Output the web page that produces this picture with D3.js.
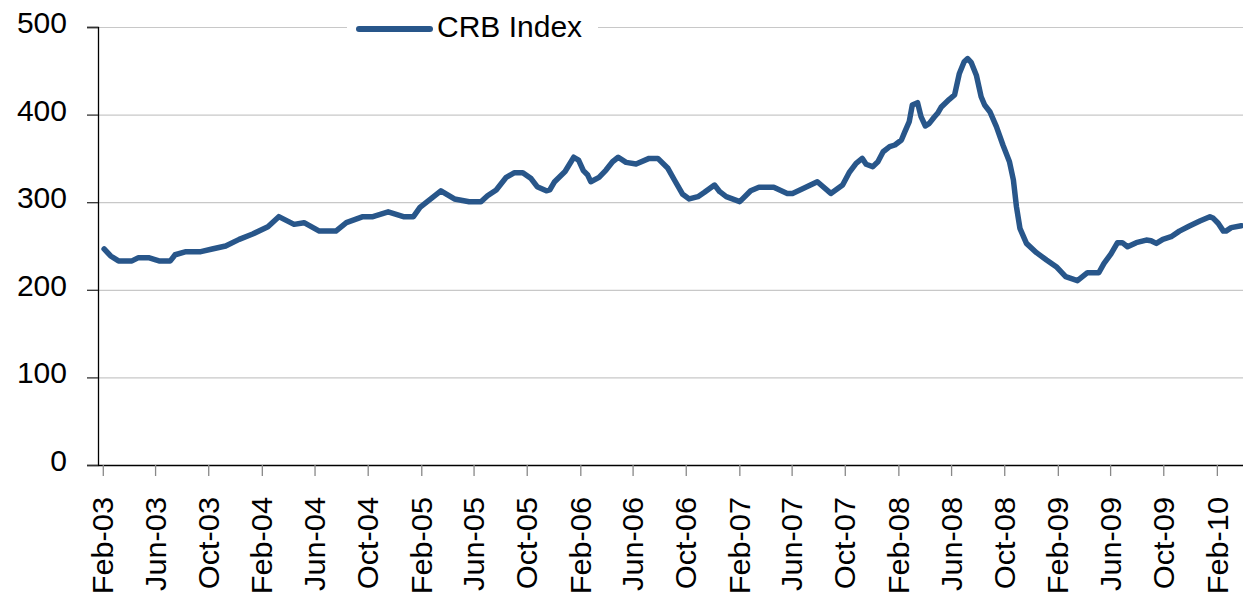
<!DOCTYPE html>
<html>
<head>
<meta charset="utf-8">
<script src="https://cdn.jsdelivr.net/npm/d3@7"></script>
<style>
    body { margin: 0; background: #fff; }
    text { font-family: "Liberation Sans", Arial, sans-serif; fill: #000; }
</style>
</head>
<body>
<div id="chart"></div>
<script>
// Weekly-ish readings of the CRB Index
const obsDates = [
    '2003-02-04', '2003-02-19', '2003-03-09', '2003-04-09', '2003-04-24', '2003-05-17', '2003-06-10', '2003-07-06',
    '2003-07-17', '2003-08-11', '2003-09-14', '2003-10-10', '2003-11-10', '2003-12-11', '2004-01-11', '2004-02-15',
    '2004-03-11', '2004-04-15', '2004-05-08', '2004-06-12', '2004-07-20', '2004-08-13', '2004-09-20', '2004-10-13',
    '2004-11-17', '2004-12-22', '2005-01-14', '2005-01-29', '2005-03-18', '2005-04-18', '2005-05-22', '2005-06-18',
    '2005-07-03', '2005-07-23', '2005-08-15', '2005-09-03', '2005-09-22', '2005-10-11', '2005-10-25', '2005-11-15',
    '2005-11-23', '2005-12-04', '2005-12-28', '2006-01-17', '2006-01-28', '2006-02-08', '2006-02-18', '2006-02-25',
    '2006-03-16', '2006-04-01', '2006-04-16', '2006-04-29', '2006-05-17', '2006-06-09', '2006-07-09', '2006-07-29',
    '2006-08-21', '2006-09-05', '2006-09-24', '2006-10-09', '2006-10-29', '2006-11-13', '2006-12-06', '2006-12-18',
    '2007-01-02', '2007-02-02', '2007-02-27', '2007-03-18', '2007-04-21', '2007-05-22', '2007-06-03', '2007-06-25',
    '2007-07-30', '2007-08-30', '2007-09-26', '2007-10-11', '2007-10-27', '2007-11-10', '2007-11-19', '2007-12-04',
    '2007-12-16', '2007-12-28', '2008-01-12', '2008-01-24', '2008-02-08', '2008-02-16', '2008-02-26', '2008-03-04',
    '2008-03-16', '2008-03-24', '2008-04-03', '2008-04-12', '2008-04-23', '2008-05-01', '2008-05-09', '2008-05-28',
    '2008-06-09', '2008-06-20', '2008-07-01', '2008-07-09', '2008-07-17', '2008-07-29', '2008-08-09', '2008-08-17',
    '2008-08-29', '2008-09-13', '2008-09-28', '2008-10-13', '2008-10-22', '2008-10-29', '2008-11-06', '2008-11-21',
    '2008-12-14', '2009-01-06', '2009-01-30', '2009-02-19', '2009-03-18', '2009-04-10', '2009-05-06', '2009-05-18',
    '2009-06-03', '2009-06-18', '2009-06-29', '2009-07-11', '2009-07-31', '2009-08-23', '2009-09-03', '2009-09-15',
    '2009-09-30', '2009-10-19', '2009-11-07', '2009-11-30', '2009-12-24', '2010-01-16', '2010-01-24', '2010-02-04',
    '2010-02-16', '2010-02-22', '2010-03-06', '2010-03-29'
];
const crbIndex = [
    246.6, 238.6, 233, 233, 236.7, 236.7, 233, 233,
    240, 243.5, 243.5, 246.6, 250, 257.6, 263.7, 272,
    283.5, 274.7, 276.6, 267, 267, 276.6, 283.5, 283.5,
    289, 283.5, 283.5, 294, 313, 303.7, 300.6, 300.6,
    307.4, 314, 328.4, 333.7, 333.7, 327, 317.7, 313,
    314, 323.4, 335, 351.3, 348, 336, 331, 323.4,
    328.4, 336.7, 346.2, 351.3, 345.5, 343.6, 350, 350,
    338.7, 325.3, 309, 303.7, 306.3, 311.3, 319.6, 312,
    306.3, 300.6, 313, 317, 317, 310, 310, 315,
    323.4, 310, 319.6, 333.7, 344.4, 350, 343.3, 340.6,
    346.2, 357.6, 363.4, 365.3, 371, 380.5, 392, 411,
    413.6, 397.6, 387, 390, 396.9, 401.5, 408.3, 417.5,
    422.4, 447, 460.4, 464, 459.7, 445, 420.4, 411,
    403.3, 386.2, 365.3, 346.2, 325.3, 294.9, 270.2, 253,
    242.4, 234, 225.7, 215, 210.4, 219.5, 219.5, 230.2,
    241, 253.8, 253.8, 249.2, 253.8, 256.8, 256, 253,
    257.6, 260.6, 267, 272.8, 278.5, 283.5, 281.6, 276,
    267, 267, 271, 273.2
];
const xTickDates = [
    '2003-02-01', '2003-06-01', '2003-10-01', '2004-02-01', '2004-06-01', '2004-10-01',
    '2005-02-01', '2005-06-01', '2005-10-01', '2006-02-01', '2006-06-01', '2006-10-01',
    '2007-02-01', '2007-06-01', '2007-10-01', '2008-02-01', '2008-06-01', '2008-10-01',
    '2009-02-01', '2009-06-01', '2009-10-01', '2010-02-01'
];
const yTicks = [0, 100, 200, 300, 400, 500];
const seriesName = 'CRB Index';

const width = 1243;
const height = 596;
const margin = { top: 27, right: 0, bottom: 131, left: 98 };
const lineColor = '#28568a';

const parse = d3.timeParse('%Y-%m-%d');
const data = obsDates.map((d, i) => ({ date: parse(d), value: crbIndex[i] }));

const svg = d3.select('#chart')
    .append('svg')
    .attr('width', width)
    .attr('height', height);

const x = d3.scaleTime()
    .domain([parse('2003-01-21'), parse('2010-04-02')])
    .range([margin.left, width - margin.right]);

const y = d3.scaleLinear()
    .domain([0, 500])
    .range([height - margin.bottom, margin.top]);

// gridlines
svg.append('g')
    .selectAll('line')
    .data(yTicks.filter(t => t > 0))
    .enter().append('line')
    .attr('x1', margin.left)
    .attr('x2', width - margin.right)
    .attr('y1', d => y(d) + 0.5)
    .attr('y2', d => y(d) + 0.5)
    .attr('stroke', '#c8c8c8')
    .attr('stroke-width', 1.2);

// y axis
const yAxis = svg.append('g')
    .attr('transform', `translate(${margin.left},0)`)
    .call(d3.axisLeft(y).tickValues(yTicks).tickSize(11).tickFormat(d3.format('d')));
yAxis.select('.domain').attr('stroke', '#000').attr('stroke-width', 1.3);
yAxis.selectAll('.tick line').attr('stroke', '#333').attr('stroke-width', 1.3);
yAxis.selectAll('.tick text')
    .attr('x', -31)
    .attr('dy', '5.5')
    .style('font-size', '30px')
    .style('font-family', '"Liberation Sans", Arial, sans-serif')
    .attr('fill', '#111');

// x axis
const xAxis = svg.append('g')
    .attr('transform', `translate(0,${y(0)})`)
    .call(d3.axisBottom(x)
        .tickValues(xTickDates.map(parse))
        .tickSize(11)
        .tickSizeOuter(0)
        .tickFormat(d3.timeFormat('%b-%y')));
xAxis.select('.domain').attr('stroke', '#000').attr('stroke-width', 1.3);
xAxis.selectAll('.tick line').attr('stroke', '#888').attr('stroke-width', 1.3);
xAxis.selectAll('.tick text')
    .attr('transform', 'rotate(-90) scale(1.06,1)')
    .attr('x', -32 / 1.06)
    .attr('y', 0)
    .attr('dy', '0.35em')
    .style('text-anchor', 'end')
    .style('font-size', '29px')
    .style('font-family', '"Liberation Sans", Arial, sans-serif')
    .attr('fill', '#111');

// series line
const line = d3.line()
    .x(d => x(d.date))
    .y(d => y(d.value));

svg.append('path')
    .datum(data)
    .attr('d', line)
    .attr('fill', 'none')
    .attr('stroke', lineColor)
    .attr('stroke-width', 5.5)
    .attr('stroke-linejoin', 'round')
    .attr('stroke-linecap', 'round');

// legend, sits over the top gridline
const legend = svg.append('g');
legend.append('rect')
    .attr('x', 347)
    .attr('y', 12)
    .attr('width', 251)
    .attr('height', 32)
    .attr('fill', '#fff');
legend.append('line')
    .attr('x1', 359)
    .attr('x2', 430)
    .attr('y1', 29)
    .attr('y2', 29)
    .attr('stroke', lineColor)
    .attr('stroke-width', 6)
    .attr('stroke-linecap', 'round');
legend.append('text')
    .attr('x', 437)
    .attr('y', 36.5)
    .style('font-size', '30px')
    .text(seriesName);
</script>
</body>
</html>
